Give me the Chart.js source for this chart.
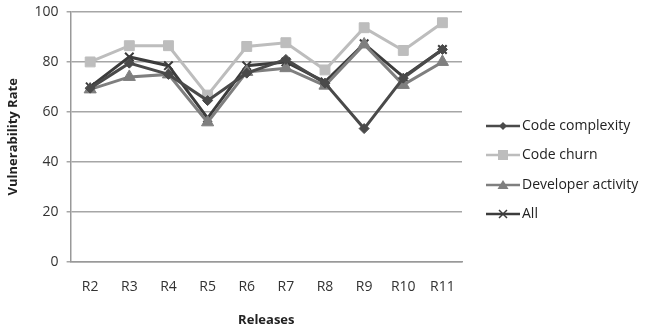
<!DOCTYPE html>
<html><head><meta charset="utf-8">
<script src="https://cdn.jsdelivr.net/npm/chart.js@4"></script>
<style>html,body{margin:0;padding:0;background:#fff}#w{width:646px;height:328px}</style>
</head><body><div id="w"><canvas id="c" width="646" height="328"></canvas></div>
<script>
const categories = ["R2","R3","R4","R5","R6","R7","R8","R9","R10","R11"];
const codeComplexity = [69.5, 79.5, 75, 64.5, 75.5, 81, 71.5, 53.3, 73.5, 85];
const codeChurn = [80, 86.5, 86.5, 66.7, 86.2, 87.7, 76.8, 93.7, 84.6, 95.7];
const developerActivity = [69, 74, 75, 55.8, 76, 77.5, 70.5, 87, 70.8, 80];
const allMetrics = [70, 82, 78.5, 57.5, 78.5, 80, 72, 87.3, 74, 85];
const yTicks = [0, 20, 40, 60, 80, 100];
const FONT = "'Open Sans', 'Liberation Sans', sans-serif";

const legendPlugin = {
  id: 'sideLegend',
  afterDraw(chart) {
    const ctx = chart.ctx;
    const x0 = 486, ys = [126, 155, 185, 214];
    chart.data.datasets.forEach((ds, i) => {
      const y = ys[i];
      ctx.save();
      ctx.strokeStyle = ds.borderColor; ctx.lineWidth = 2.5;
      ctx.beginPath(); ctx.moveTo(x0, y); ctx.lineTo(x0 + 34, y); ctx.stroke();
      const cx = x0 + 17;
      ctx.fillStyle = ds.pointBackgroundColor; ctx.strokeStyle = ds.pointBorderColor;
      const st = ds.pointStyle;
      ctx.lineWidth = 1.5;
      if (st === 'rectRot') { ctx.beginPath(); ctx.moveTo(cx, y-4); ctx.lineTo(cx+4, y); ctx.lineTo(cx, y+4); ctx.lineTo(cx-4, y); ctx.closePath(); ctx.fill(); }
      else if (st === 'rect') { ctx.fillRect(cx-5, y-5, 10, 10); }
      else if (st === 'triangle') { ctx.beginPath(); ctx.moveTo(cx, y-5); ctx.lineTo(cx+5.5, y+4); ctx.lineTo(cx-5.5, y+4); ctx.closePath(); ctx.fill(); }
      else { ctx.beginPath(); ctx.moveTo(cx-4, y-4); ctx.lineTo(cx+4, y+4); ctx.moveTo(cx+4, y-4); ctx.lineTo(cx-4, y+4); ctx.stroke(); }
      ctx.fillStyle = '#222'; ctx.font = '14px ' + FONT; ctx.textBaseline = 'middle'; ctx.textAlign = 'left';
      ctx.fillText(ds.label, x0 + 36, y);
      ctx.restore();
    });
  }
};

function ds(label, data, color, style, radius) {
  return { label, data, borderColor: color, backgroundColor: color, pointBackgroundColor: color,
    pointBorderColor: color, pointStyle: style, pointRadius: radius, pointBorderWidth: style === 'cross' || style === 'crossRot' ? 2 : 1,
    borderWidth: 3, tension: 0, fill: false };
}

new Chart(document.getElementById('c'), {
  type: 'line',
  data: { labels: categories, datasets: [
    ds('Code complexity', codeComplexity, '#4a4a4a', 'rectRot', 5),
    ds('Code churn', codeChurn, '#bdbdbd', 'rect', 7),
    ds('Developer activity', developerActivity, '#7f7f7f', 'triangle', 7),
    ds('All', allMetrics, '#3c3c3c', 'crossRot', 6)
  ]},
  options: {
    responsive: false, animation: false, devicePixelRatio: 1,
    layout: { padding: { left: 5, right: 184, top: 12, bottom: 0 } },
    plugins: { legend: { display: false }, tooltip: { enabled: false } },
    scales: {
      x: { offset: true, grid: { display: false, drawTicks: false }, border: { color: '#999', width: 1.5 },
        ticks: { color: '#333', font: { family: FONT, size: 14 }, padding: 17 },
        title: { display: true, text: 'Releases', color: '#222', font: { family: FONT, size: 13, weight: 'bold' }, padding: { top: 0, bottom: 0 } } },
      y: { min: 0, max: 100, afterBuildTicks: a => { a.ticks = yTicks.map(v => ({ value: v })); },
        afterFit: s => { s.paddingTop = 0; },
        grid: { color: '#a6a6a6', lineWidth: 1.5, drawTicks: true, tickLength: 4 }, border: { color: '#999', width: 1.5 },
        ticks: { color: '#333', font: { family: FONT, size: 14 }, padding: 8 },
        title: { display: true, text: 'Vulnerability Rate', color: '#222', font: { family: FONT, size: 13, weight: 'bold' }, padding: { top: 0, bottom: 6 } } }
    }
  },
  plugins: [legendPlugin]
});
</script></body></html>
